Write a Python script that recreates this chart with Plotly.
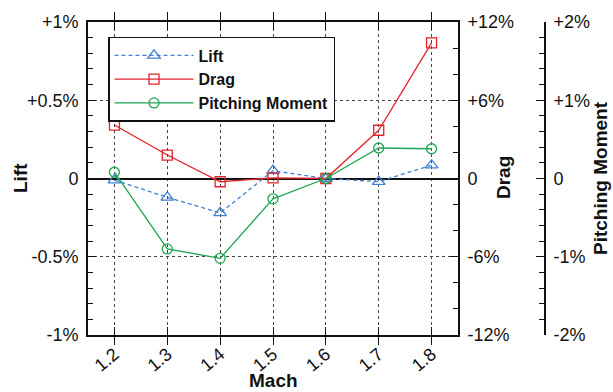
import plotly.graph_objects as go

mach = [1.2, 1.3, 1.4, 1.5, 1.6, 1.7, 1.8]
mach_labels = ["1.2", "1.3", "1.4", "1.5", "1.6", "1.7", "1.8"]
lift = [-0.01, -0.12, -0.22, 0.05, 0.0, -0.02, 0.085]
drag = [4.1, 1.8, -0.25, 0.05, 0.0, 3.7, 10.4]
pitch = [0.08, -0.9, -1.02, -0.26, 0.0, 0.39, 0.38]

lift_ticks = [-1, -0.5, 0, 0.5, 1]
lift_ticktext = ["-1%", "-0.5%", "0", "+0.5%", "+1%"]
drag_ticks = [-12, -6, 0, 6, 12]
drag_ticktext = ["-12%", "-6%", "0", "+6%", "+12%"]
pitch_ticks = [-2, -1, 0, 1, 2]
pitch_ticktext = ["-2%", "-1%", "0", "+1%", "+2%"]

FONT = "Liberation Sans, Arial, Helvetica, sans-serif"
BLUE = "#3f7fd6"
RED = "#e3222b"
GREEN = "#1fa553"

W, H = 613, 392
ML, MR, MT, MB = 88, 40, 20, 57
paper_w = W - ML - MR
plot_right = 458
axis3_x = 545
xdom = (plot_right - ML) / paper_w
pos3 = (axis3_x - ML) / paper_w

fig = go.Figure()
fig.add_trace(go.Scatter(
    x=mach, y=lift, name="Lift", mode="lines+markers", yaxis="y",
    line=dict(color=BLUE, width=1.3, dash="4px,3px"),
    marker=dict(symbol="triangle-up-open", size=11, color=BLUE, line=dict(width=1.3)),
))
fig.add_trace(go.Scatter(
    x=mach, y=drag, name="Drag", mode="lines+markers", yaxis="y2",
    line=dict(color=RED, width=1.3),
    marker=dict(symbol="square-open", size=10, color=RED, line=dict(width=1.3)),
))
fig.add_trace(go.Scatter(
    x=mach, y=pitch, name="Pitching Moment", mode="lines+markers", yaxis="y3",
    line=dict(color=GREEN, width=1.3),
    marker=dict(symbol="circle-open", size=10, color=GREEN, line=dict(width=1.3)),
))

tickfont = dict(family=FONT, size=18, color="#111")

fig.update_layout(
    width=W, height=H,
    margin=dict(l=ML, r=MR, t=MT, b=MB),
    paper_bgcolor="white", plot_bgcolor="white",
    font=dict(family=FONT, color="#111"),
    showlegend=True,
    legend=dict(
        x=(108 - ML) / paper_w, xanchor="left",
        y=1 - (35 - MT) / (H - MT - MB), yanchor="top",
        bgcolor="white", bordercolor="#111", borderwidth=1.5,
        font=dict(family=FONT, size=16, color="#111", weight="bold"),
        tracegroupgap=0, itemwidth=79,
    ),
    xaxis=dict(
        domain=[0, xdom], range=[1.15, 1.85],
        tickvals=mach, ticktext=mach_labels, tickangle=-40,
        ticks="inside", ticklen=8, tickcolor="#111", tickwidth=1.3,
        showline=True, linecolor="#111", linewidth=1.6, mirror="allticks",
        showgrid=True, gridcolor="#444", griddash="3px,3px", gridwidth=1,
        zeroline=False, tickfont=tickfont,
    ),
    yaxis=dict(
        range=[-1, 1], tickvals=lift_ticks, ticktext=lift_ticktext,
        ticks="inside", ticklen=8, tickcolor="#111", tickwidth=1.3,
        minor=dict(ticks="inside", ticklen=5, dtick=0.1, tick0=0, tickcolor="#111",
                   tickwidth=1, showgrid=False),
        showline=True, linecolor="#111", linewidth=1.6,
        showgrid=True, gridcolor="#444", griddash="3px,3px", gridwidth=1,
        zeroline=True, zerolinecolor="#111", zerolinewidth=1.5,
        tickfont=tickfont, ticklabelstandoff=4,
    ),
    yaxis2=dict(
        range=[-12, 12], tickvals=drag_ticks, ticktext=drag_ticktext,
        overlaying="y", side="right", anchor="x",
        ticks="inside", ticklen=8, tickcolor="#111", tickwidth=1.3,
        minor=dict(ticks="inside", ticklen=5, dtick=2, tick0=0, tickcolor="#111",
                   tickwidth=1, showgrid=False),
        showline=True, linecolor="#111", linewidth=1.6,
        showgrid=False, zeroline=False,
        tickfont=tickfont, ticklabelstandoff=4,
    ),
    yaxis3=dict(
        range=[-2, 2], tickvals=pitch_ticks, ticktext=pitch_ticktext,
        overlaying="y", side="right", anchor="free", position=pos3,
        ticks="inside", ticklen=8, tickcolor="#111", tickwidth=1.3,
        minor=dict(ticks="inside", ticklen=5, dtick=0.2, tick0=0, tickcolor="#111",
                   tickwidth=1, showgrid=False),
        showline=True, linecolor="#111", linewidth=1.6,
        showgrid=False, zeroline=False,
        tickfont=tickfont, ticklabelstandoff=4,
    ),
)

title_font = dict(family=FONT, size=19, color="#111", weight="bold")
plot_h = H - MT - MB
def px_x(px):
    return (px - ML) / paper_w
def px_y(py):
    return 1 - (py - MT) / plot_h

fig.add_annotation(text="Lift", x=px_x(20), y=px_y(177), xref="paper", yref="paper",
                   textangle=-90, showarrow=False, font=title_font,
                   xanchor="center", yanchor="middle")
fig.add_annotation(text="Drag", x=px_x(503), y=px_y(177), xref="paper", yref="paper",
                   textangle=-90, showarrow=False, font=title_font,
                   xanchor="center", yanchor="middle")
fig.add_annotation(text="Pitching Moment", x=px_x(600), y=px_y(177), xref="paper", yref="paper",
                   textangle=-90, showarrow=False, font=title_font,
                   xanchor="center", yanchor="middle")
fig.add_annotation(text="Mach", x=px_x(273), y=px_y(381), xref="paper", yref="paper",
                   showarrow=False, font=title_font,
                   xanchor="center", yanchor="middle")

fig.write_html("out.html")
